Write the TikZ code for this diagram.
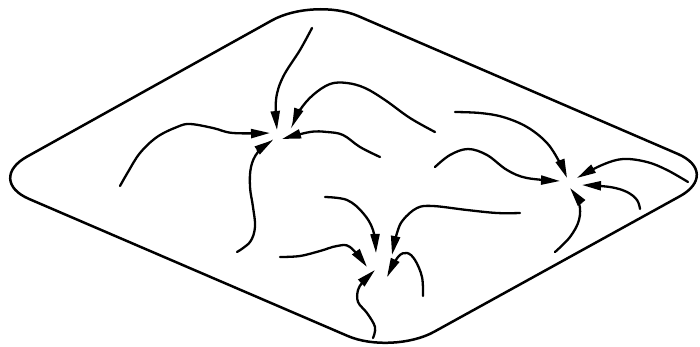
\documentclass[tikz,border=0pt]{standalone}
\usetikzlibrary{arrows.meta}
\begin{document}
\begin{tikzpicture}[x=1pt,y=-1pt,
  outline/.style={line width=2.5pt, rounded corners=48pt, line join=round},
  flow/.style={line width=2.3pt, line cap=round, -{Triangle[length=19pt,width=9pt]}},
  curve/.style={smooth, tension=0.6}]
\useasboundingbox (0,0) rectangle (700,346);
\coordinate (L) at (-15,180);
\coordinate (T) at (314,-3);
\coordinate (R) at (722,173);
\coordinate (B) at (392,355);
\draw[outline] (L) -- (T) -- (R) -- (B) -- cycle;
% sink 1
\draw[flow] plot[curve] coordinates {(312,28) (300,50) (283,77) (276,100) (277,130)};
\draw[flow] plot[curve] coordinates {(435,132) (410,118) (385,100) (365,88) (347,83) (330,84) (313,95) (300,110) (292,127)};
\draw[flow] plot[curve] coordinates {(120,186) (128,172) (140,153) (157,137) (177,127) (190,124) (213,128) (233,133) (270,133)};
\draw[flow] plot[curve] coordinates {(380,157) (360,147) (343,135) (327,132) (310,132) (282,139)};
\draw[flow] plot[curve] coordinates {(237,252) (250,242) (255,227) (253,207) (250,187) (251,167) (258,152) (273,140)};
% sink 2
\draw[flow] plot[curve] coordinates {(325,197) (347,200) (363,213) (373,230) (376,253)};
\draw[flow] plot[curve] coordinates {(520,213) (497,213) (467,210) (433,206) (417,208) (403,220) (397,233) (392,255)};
\draw[flow] plot[curve] coordinates {(280,257) (300,256) (320,251) (337,246) (350,247) (367,267)};
\draw[flow] plot[curve] coordinates {(423,296) (422,277) (415,260) (407,253) (398,257) (387,277)};
\draw[flow] plot[curve] coordinates {(373,338) (375,327) (367,313) (358,302) (358,290) (363,282) (375,270)};
% sink 3
\draw[flow] plot[curve] coordinates {(455,112) (480,113) (503,117) (527,127) (547,143) (560,163) (567,178)};
\draw[flow] plot[curve] coordinates {(435,167) (450,155) (468,149) (487,155) (507,170) (527,178) (560,181)};
\draw[flow] plot[curve] coordinates {(688,182) (667,170) (647,162) (623,159) (602,165) (577,178)};
\draw[flow] plot[curve] coordinates {(640,209) (637,200) (627,192) (610,187) (582,185)};
\draw[flow] plot[curve] coordinates {(555,252) (570,237) (579,220) (579,203) (570,188)};
\end{tikzpicture}
\end{document}
